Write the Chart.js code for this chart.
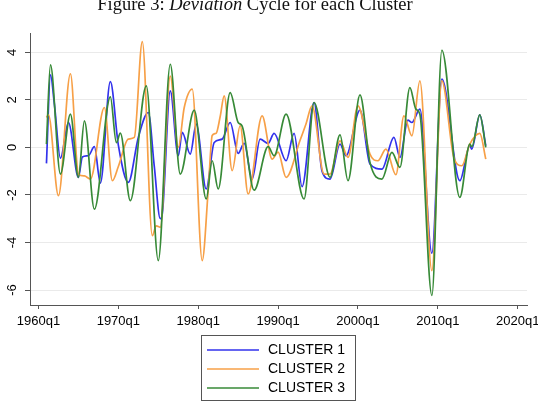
<!DOCTYPE html>
<html>
<head>
<meta charset="utf-8">
<script src="https://cdn.jsdelivr.net/npm/chart.js@4.4.1/dist/chart.umd.min.js"></script>
<style>
  html, body { margin: 0; padding: 0; background: #fff; }
  canvas { display: block; }
</style>
</head>
<body>
<canvas id="chart" width="538" height="420"></canvas>
<script>
// Achsen
const xTicks = [1960, 1970, 1980, 1990, 2000, 2010, 2020];
const xTickLabels = ['1960q1', '1970q1', '1980q1', '1990q1', '2000q1', '2010q1', '2020q1'];
const yTicks = [-6, -4, -2, 0, 2, 4];

const seriesNames = ['CLUSTER 1', 'CLUSTER 2', 'CLUSTER 3'];

const c1Quarters = ['1961q1','1961q3','1962q1','1962q4','1963q4','1965q1','1965q3','1966q2','1967q1','1967q4',
  '1969q1','1970q1','1971q2','1972q3','1973q4','1974q3','1975q2','1975q3','1976q3','1977q3',
  '1978q1','1979q1','1979q4','1981q1','1982q1','1983q1','1984q1','1985q1','1985q4','1986q4',
  '1987q4','1988q4','1989q3','1991q1','1992q1','1993q1','1994q3','1995q3','1996q3','1997q4',
  '1998q3','2000q2','2001q3','2003q1','2004q3','2005q2','2006q2','2006q4','2007q4','2009q2',
  '2010q3','2012q4','2014q1','2014q2','2015q2','2016q1'];
const c1Values = [-0.67, 3.05, 1.8, -0.45, 1.05, -1.26, -0.4, -0.35, 0.03, -1.5,
  2.77, 0.1, -1.47, 0.42, 1.47, -0.8, -3.0, -2.8, 2.38, -0.35,
  0.63, -0.28, 0.98, -1.75, 0.21, 0.35, 1.05, -0.25, 0.17, -1.33,
  0.35, 0.17, 0.59, -0.56, 0.59, -1.65, 1.89, -1.0, -1.33, 0.14,
  -0.35, 1.57, -0.7, -0.91, 0.42, -0.42, 1.15, 1.05, 1.61, -4.45,
  2.87, -1.4, 0.07, -0.07, 1.37, 0.07];

// Cluster 2
const c2Quarters = ['1961q1','1961q2','1962q3','1964q1','1965q1','1965q4','1966q3','1968q2','1969q2','1970q1',
  '1971q2','1972q1','1973q1','1974q2','1974q4','1975q2','1976q3','1977q3','1978q2','1979q2',
  '1980q3','1981q2','1981q4','1982q2','1982q4','1983q2','1984q2','1985q2','1986q2','1988q1',
  '1989q2','1990q1','1991q1','1992q4','1993q3','1994q2','1995q4','1996q3','1997q4','1998q4',
  '2000q1','2001q3','2002q3','2003q3','2004q4','2005q4','2006q4','2007q4','2009q2','2010q3',
  '2012q1','2013q1','2014q1','2015q2','2016q1'];
const c2Values = [1.26, 1.37, -2.03, 3.1, -1.12, -1.2, -1.33, 1.68, -1.4, -0.8,
  0.35, 0.42, 4.45, -3.71, -3.3, -3.36, 3.0, 0.0, 1.68, 2.45,
  -4.76, -1.8, 0.5, 0.6, 1.3, 2.17, -0.98, 0.91, -1.96, 1.33,
  -0.49, -0.2, -1.26, 0.3, 1.0, 1.75, -1.12, -1.12, 0.28, -0.42,
  1.75, -0.28, -0.56, -0.07, -1.15, 1.33, 0.49, 2.8, -5.18, 2.8,
  -0.42, -0.77, 0.14, 0.59, -0.49];

// Cluster 3
const c3Quarters = ['1961q1','1961q3','1962q4','1964q1','1965q1','1965q4','1967q1','1969q1','1969q4','1970q2',
  '1971q3','1973q3','1975q1','1976q3','1977q4','1979q3','1981q1','1981q4','1982q3','1984q1',
  '1985q1','1985q3','1987q1','1988q4','1989q3','1991q1','1993q2','1994q3','1996q3','1997q4',
  '1998q4','2000q2','2001q3','2003q1','2004q2','2005q2','2006q3','2007q2','2007q4','2009q2',
  '2010q3','2012q4','2014q1','2014q2','2015q2','2016q1'];
const c3Values = [0.14, 3.47, -1.12, 1.4, -1.26, 1.12, -2.6, 2.13, 0.2, 0.6,
  -2.24, 2.59, -4.76, 3.5, -1.12, 1.57, -2.17, -0.56, -1.75, 2.31,
  1.05, 0.9, -1.8, 0.03, -0.35, 1.4, -2.17, 1.89, -1.26, 0.53,
  -1.4, 2.21, -0.63, -1.33, -0.21, -0.84, 2.52, 1.61, 1.4, -6.23,
  4.09, -2.1, 0.14, 0.03, 1.37, 0.0];

const colors = ['#3232ec', '#f7a047', '#378a37'];

// '1961q3' -> 1961.5
function qToYear(q) {
  return parseInt(q.slice(0, 4)) + (parseInt(q.slice(5)) - 1) / 4;
}
function toPoints(quarters, values) {
  return quarters.map((q, i) => ({ x: qToYear(q), y: values[i] }));
}

const textPlugin = {
  id: 'stataText',
  afterDraw(chart) {
    const ctx = chart.ctx;
    const xs = chart.scales.x, ys = chart.scales.y;
    const area = chart.chartArea;
    ctx.save();
    ctx.fillStyle = '#000';
    ctx.font = '13px "Liberation Sans", Arial, sans-serif';
    ctx.textAlign = 'center';
    ctx.textBaseline = 'middle';
    xTicks.forEach((v, i) => ctx.fillText(xTickLabels[i], xs.getPixelForValue(v), area.bottom + 16.5));
    yTicks.forEach(v => {
      ctx.save();
      ctx.translate(12.5, ys.getPixelForValue(v));
      ctx.rotate(-Math.PI / 2);
      ctx.fillText(String(v), 0, 0);
      ctx.restore();
    });

    // Titel
    const parts = [['Figure 3: ', ''], ['Deviation', 'italic '], [' Cycle for each Cluster', '']];
    const fam = '18.5px "Liberation Serif", "Times New Roman", serif';
    let total = 0;
    parts.forEach(p => { ctx.font = p[1] + fam; total += ctx.measureText(p[0]).width; });
    let tx = 255 - total / 2;
    ctx.textAlign = 'left';
    ctx.textBaseline = 'alphabetic';
    ctx.fillStyle = '#111';
    parts.forEach(p => {
      ctx.font = p[1] + fam;
      ctx.fillText(p[0], tx, 9.5);
      tx += ctx.measureText(p[0]).width;
    });

    // Legende
    const bx = 201.5, by = area.bottom + 30.5, bw = 154, bh = 65;
    ctx.fillStyle = '#fff';
    ctx.fillRect(bx, by, bw, bh);
    ctx.strokeStyle = '#555';
    ctx.lineWidth = 1;
    ctx.strokeRect(bx, by, bw, bh);
    ctx.font = '14px "Liberation Sans", Arial, sans-serif';
    ctx.textBaseline = 'middle';
    seriesNames.forEach((name, i) => {
      const ly = by + 14.5 + i * 19;
      ctx.strokeStyle = colors[i];
      ctx.lineWidth = 1.7;
      ctx.beginPath();
      ctx.moveTo(207, ly);
      ctx.lineTo(259, ly);
      ctx.stroke();
      ctx.fillStyle = '#000';
      ctx.fillText(name, 268, ly);
    });
    ctx.restore();
  }
};

const ctx = document.getElementById('chart').getContext('2d');
new Chart(ctx, {
  type: 'line',
  data: {
    datasets: [
      { label: seriesNames[0], data: toPoints(c1Quarters, c1Values), borderColor: colors[0], order: 2 },
      { label: seriesNames[1], data: toPoints(c2Quarters, c2Values), borderColor: colors[1], order: 1 },
      { label: seriesNames[2], data: toPoints(c3Quarters, c3Values), borderColor: colors[2], order: 0 }
    ]
  },
  options: {
    responsive: false,
    animation: false,
    devicePixelRatio: 1,
    layout: { padding: { left: 0, top: 33, right: 11, bottom: 0 } },
    elements: {
      line: { borderWidth: 1.7, fill: false, cubicInterpolationMode: 'monotone' },
      point: { radius: 0, hoverRadius: 0 }
    },
    plugins: {
      legend: { display: false },
      title: { display: false },
      tooltip: { enabled: false }
    },
    scales: {
      x: {
        type: 'linear',
        min: 1958.94,
        max: 2021.16,
        afterBuildTicks: s => { s.ticks = xTicks.map(v => ({ value: v })); },
        afterFit: s => { s.height = 115; },
        ticks: { display: false },
        grid: { drawOnChartArea: false, drawTicks: true, tickLength: 4, tickColor: '#555' },
        border: { display: true, color: '#555', width: 1 }
      },
      y: {
        type: 'linear',
        min: -6.63,
        max: 4.815,
        afterBuildTicks: s => { s.ticks = yTicks.map(v => ({ value: v })); },
        afterFit: s => { s.width = 30; },
        ticks: { display: false },
        grid: { color: '#eaeaea', drawTicks: true, tickLength: 5, tickColor: '#555' },
        border: { display: true, color: '#555', width: 1 }
      }
    }
  },
  plugins: [textPlugin]
});
</script>
</body>
</html>
